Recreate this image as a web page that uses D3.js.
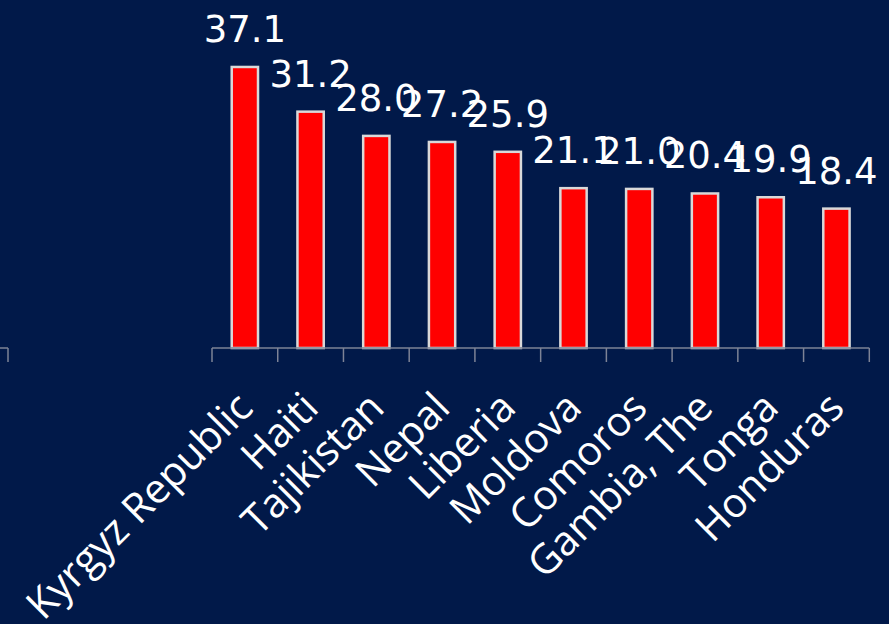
<!DOCTYPE html>
<html><head><meta charset="utf-8">
<script src="https://cdn.jsdelivr.net/npm/d3@7"></script>
<style>
html,body{margin:0;padding:0;background:#011949;}
svg{display:block;}
</style></head>
<body>
<svg id="chart" width="889" height="624"></svg>
<script>
const categories = ["Kyrgyz Republic","Haiti","Tajikistan","Nepal","Liberia","Moldova","Comoros","Gambia, The","Tonga","Honduras"];
const values = [37.1,31.2,28.0,27.2,25.9,21.1,21.0,20.4,19.9,18.4];
const valueLabels = ["37.1","31.2","28.0","27.2","25.9","21.1","21.0","20.4","19.9","18.4"];

const svg = d3.select("#chart");
svg.append("rect").attr("width",889).attr("height",624).attr("fill","#011949");

const x = d3.scaleBand().domain(categories).range([212, 869.3]).paddingInner(0.6).paddingOuter(0.3);
const y = d3.scaleLinear().domain([0, 40]).range([348, 45]);

const axisColor = "#7d8396";
// partial axis at far left
const leftAxis = svg.append("g");
leftAxis.append("line").attr("x1",0).attr("x2",8).attr("y1",y(0)).attr("y2",y(0)).attr("stroke",axisColor).attr("stroke-width",1.5);
leftAxis.append("line").attr("x1",8).attr("x2",8).attr("y1",y(0)).attr("y2",y(0)+14).attr("stroke",axisColor).attr("stroke-width",1.5);

// bars
svg.append("g").selectAll("rect").data(values).join("rect")
  .attr("x",(d,i)=>x(categories[i]))
  .attr("width",x.bandwidth())
  .attr("y",d=>y(d))
  .attr("height",d=>y(0)-y(d))
  .attr("fill","#ff0000")
  .attr("stroke","#d9d9d9")
  .attr("stroke-width",2.5);

// x axis line with ticks at band boundaries
const axisG = svg.append("g");
axisG.append("line").attr("x1",212).attr("x2",869.3).attr("y1",y(0)).attr("y2",y(0)).attr("stroke",axisColor).attr("stroke-width",1.5);
const tickPos = d3.range(categories.length+1).map(i=>212+i*(869.3-212)/categories.length);
axisG.selectAll("line.t").data(tickPos).join("line").attr("class","t")
  .attr("x1",d=>d).attr("x2",d=>d).attr("y1",y(0)).attr("y2",y(0)+14)
  .attr("stroke",axisColor).attr("stroke-width",1.5);

// category labels
svg.append("g").selectAll("text").data(categories).join("text")
  .attr("transform",d=>`translate(${x(d)+x.bandwidth()/2+10},${y(0)+62}) rotate(-45)`)
  .attr("text-anchor","end")
  .attr("font-family","'Open Sans', sans-serif")
  .attr("font-size",41)
  .attr("fill","#ffffff")
  .text(d=>d);

// value labels
svg.append("g").selectAll("text").data(values).join("text")
  .attr("x",(d,i)=>x(categories[i])+x.bandwidth()/2)
  .attr("y",d=>y(d)-25)
  .attr("text-anchor","middle")
  .attr("font-family","'DejaVu Sans', sans-serif")
  .attr("font-size",37)
  .attr("fill","#ffffff")
  .text((d,i)=>valueLabels[i]);
</script>
</body></html>
